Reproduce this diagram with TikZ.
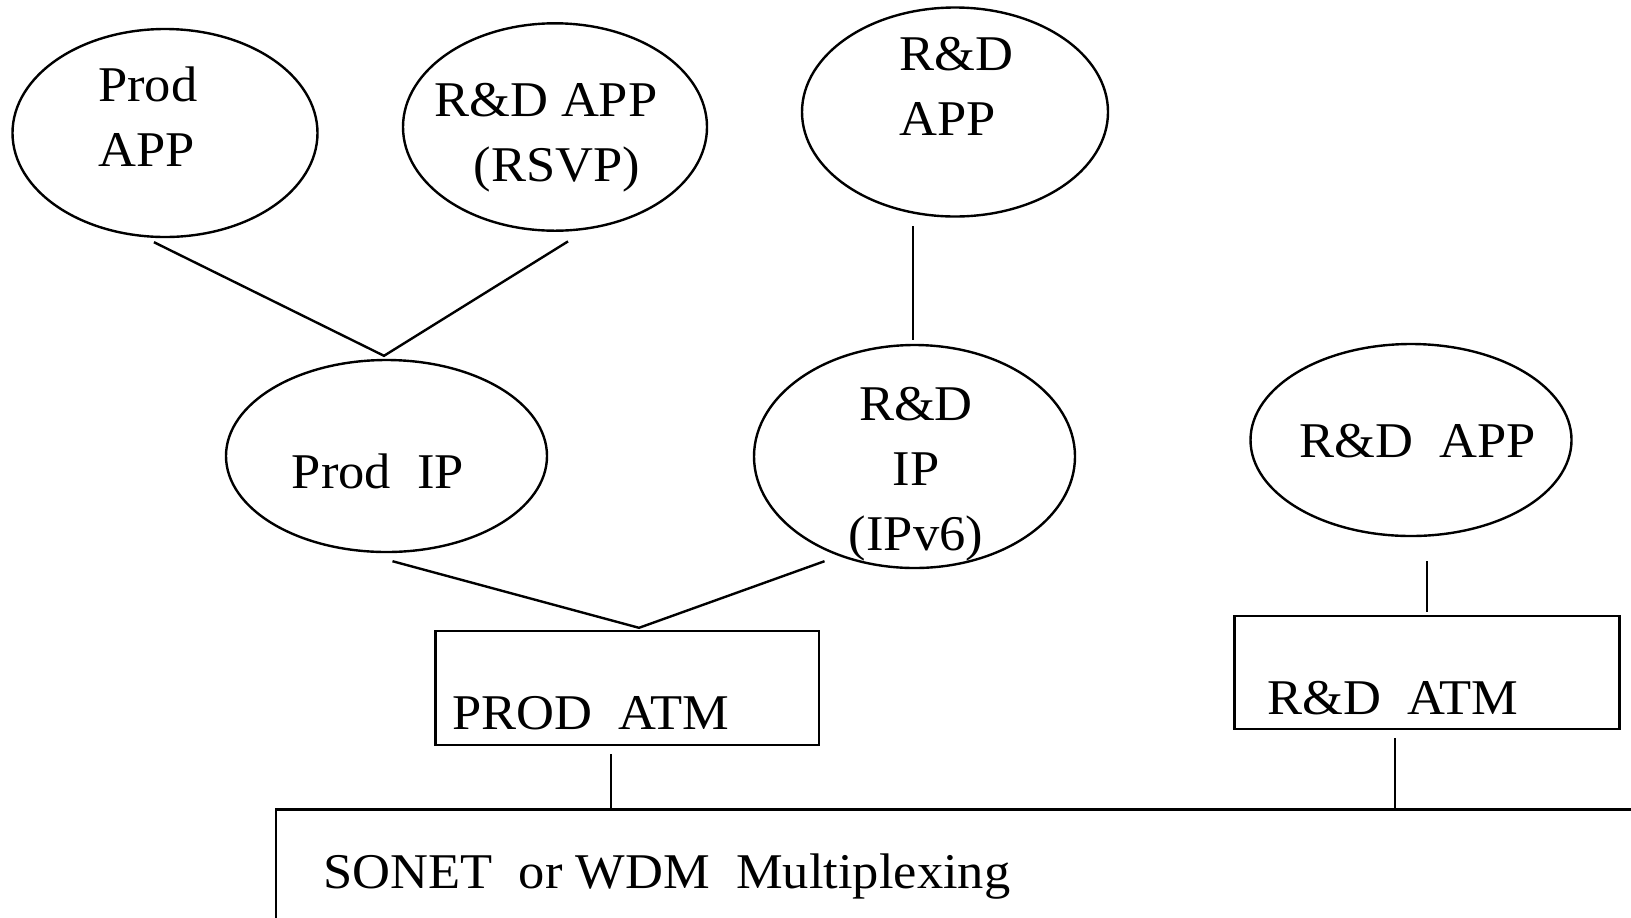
\documentclass[tikz,border=0pt]{standalone}
\usepackage{fontspec}
\setmainfont{Liberation Serif}[FakeStretch=1.05]
\usetikzlibrary{shapes.geometric}

\begin{document}
\begin{tikzpicture}[x=0.5pt, y=-0.5pt, line width=1.2pt,
  oval/.style={ellipse, draw, inner sep=0pt},
  box/.style={rectangle, draw, inner sep=0pt},
  txt/.style={inner sep=0pt, anchor=base west, align=left, font=\fontsize{25}{32.5}\selectfont}]
  \useasboundingbox (0,0) rectangle (1631,917);
  \clip (0,0) rectangle (1631,917);

  \node[oval, minimum width=152.5pt, minimum height=104pt] (prodapp) at (165,133) {};
  \node[oval, minimum width=152pt, minimum height=103.7pt] (rsvpapp) at (555,127) {};
  \node[oval, minimum width=153pt, minimum height=104.5pt] (rdapp) at (955,112) {};
  \node[oval, minimum width=160.5pt, minimum height=96pt] (prodip) at (386.5,456) {};
  \node[oval, minimum width=160.5pt, minimum height=111.5pt] (rdip) at (914.5,456.5) {};
  \node[oval, minimum width=160.5pt, minimum height=96pt] (rdapptwo) at (1411,440) {};
  \node[box, minimum width=191.7pt, minimum height=57pt] (prodatm) at (627,688) {};
  \node[box, minimum width=192.6pt, minimum height=56.5pt] (rdatm) at (1427,672.5) {};
  \node[box, anchor=north west, minimum width=700pt, minimum height=100pt] (sonet) at (274.5,808.3) {};

  \node[txt] (prodapptext) at (97,166.7) {Prod\\APP};
  \node[txt] (rsvpapptext) at (433,181.7) {R\&D APP\\~~~(RSVP)};
  \node[txt] (rdapptext) at (898,135) {R\&D\\APP};
  \node[txt] (prodiptext) at (290.7,488.3) {Prod~~IP};
  \node[txt, anchor=base, align=center] (rdiptext) at (916,550) {R\&D\\IP\\(IPv6)};
  \node[txt] (rdapptwotext) at (1298,457.3) {R\&D~~APP};
  \node[txt] (prodatmtext) at (451,729) {PROD~~ATM};
  \node[txt] (rdatmtext) at (1266,714) {R\&D~~ATM};
  \node[txt] (sonettext) at (322.4,888.3) {SONET~~or WDM~~Multiplexing};

  \draw ([shift={(-11,4)}]prodapp.south) -- ([shift={(-2.5,-3)}]prodip.north) -- ([shift={(13,9.5)}]rsvpapp.south);
  \draw ([shift={(-42,8.5)}]rdapp.south) -- ([shift={(-1.5,-4)}]rdip.north);
  \draw ([shift={(6,8)}]prodip.south) -- ([shift={(12,-2)}]prodatm.north) -- ([shift={(-90,-8)}]rdip.south);
  \draw ([shift={(16,24)}]rdapptwo.south) -- ([shift={(0,-3)}]rdatm.north);
  \draw ([shift={(-16,8)}]prodatm.south) coordinate (prodatmfoot) -- (prodatmfoot |- sonet.north);
  \draw ([shift={(-32,8)}]rdatm.south) coordinate (rdatmfoot) -- (rdatmfoot |- sonet.north);
\end{tikzpicture}
\end{document}
